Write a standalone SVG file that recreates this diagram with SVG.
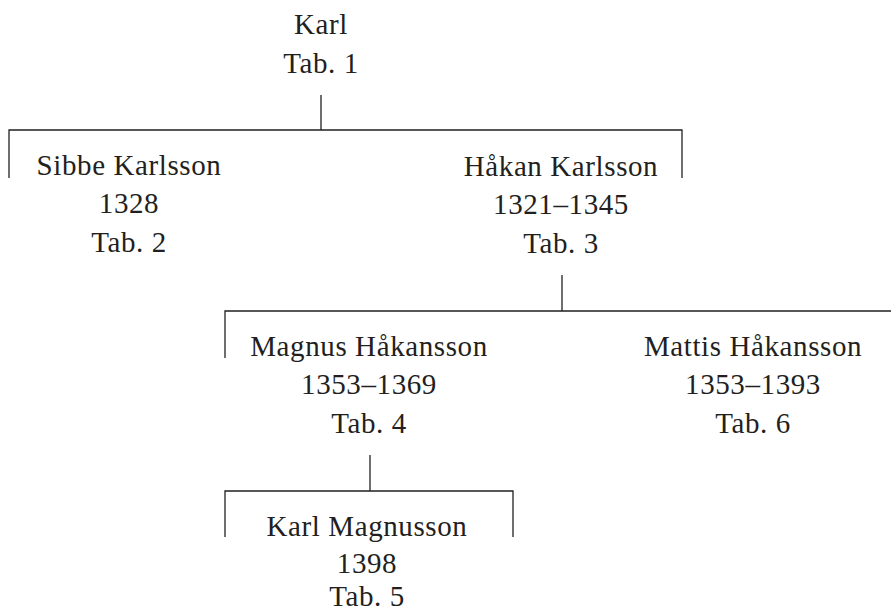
<svg xmlns="http://www.w3.org/2000/svg" width="891" height="613" viewBox="0 0 891 613">
<style>
text{font-family:"Liberation Serif","Times New Roman",serif;font-size:29px;fill:#231f20;text-anchor:middle;letter-spacing:0.6px}
.c{stroke:#231f20;stroke-width:1.3;fill:none}
</style>
<rect width="891" height="613" fill="#fff"/>
<g id="connectors">
<path class="c" d="M321 95V130M9 178V130H682V178"/>
<path class="c" d="M562 275V311M225 358V311H891"/>
<path class="c" d="M370 455V491M225 537V491H513V537"/>
</g>
<g id="karl"><text x="321" y="34">Karl</text><text x="321" y="73">Tab. 1</text></g>
<g id="sibbe"><text x="129" y="175">Sibbe Karlsson</text><text x="129" y="213">1328</text><text x="129" y="252">Tab. 2</text></g>
<g id="hakan"><text x="561" y="176">Håkan Karlsson</text><text x="561" y="214">1321–1345</text><text x="561" y="253">Tab. 3</text></g>
<g id="magnus"><text x="369" y="356">Magnus Håkansson</text><text x="369" y="394">1353–1369</text><text x="369" y="433">Tab. 4</text></g>
<g id="mattis"><text x="753" y="356">Mattis Håkansson</text><text x="753" y="394">1353–1393</text><text x="753" y="433">Tab. 6</text></g>
<g id="karlm"><text x="367" y="536">Karl Magnusson</text><text x="367" y="573">1398</text><text x="367" y="606">Tab. 5</text></g>
</svg>
